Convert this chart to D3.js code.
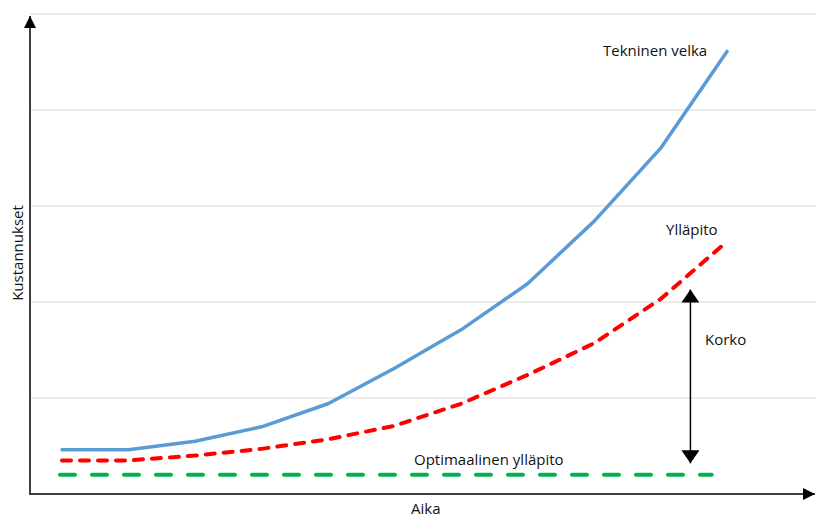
<!DOCTYPE html>
<html>
<head>
<meta charset="utf-8">
<script src="https://cdn.jsdelivr.net/npm/d3@7"></script>
<style>
  body { margin: 0; background: #fff; }
  text { font-family: "Open Sans", "Noto Sans", sans-serif; font-size: 15px; fill: #111; }
</style>
</head>
<body>
<svg id="chart" width="816" height="518"></svg>
<script>
// time steps (no labels on the axis)
const time = [0, 1, 2, 3, 4, 5, 6, 7, 8, 9, 10];
// costs
const teknVelka = [0.46, 0.46, 0.55, 0.70, 0.94, 1.31, 1.71, 2.19, 2.84, 3.60, 4.61];
const yllapito = [0.35, 0.35, 0.40, 0.47, 0.57, 0.71, 0.94, 1.24, 1.57, 2.03, 2.63];
const optimiTime = [0, 9.8];
const optimi = [0.20, 0.20];
const gridValues = [1, 2, 3, 4, 5];
// "Korko" arrow spans between these cost levels
const korkoTime = 9.45;
const korko = [0.32, 2.13];

const svg = d3.select("#chart");
const axisX = 30, axisY = 494;

const x = d3.scaleLinear().domain([0, 10]).range([62, 727]);
const y = d3.scaleLinear().domain([0, 5]).range([axisY, 14]);

const defs = svg.append("defs");
defs.append("marker")
    .attr("id", "axisHead")
    .attr("viewBox", "0 0 12 12")
    .attr("refX", 12).attr("refY", 6)
    .attr("markerWidth", 12).attr("markerHeight", 12)
    .attr("markerUnits", "userSpaceOnUse")
    .attr("orient", "auto")
    .append("path").attr("d", "M0,0 L12,6 L0,12 Z").attr("fill", "#000");
defs.append("marker")
    .attr("id", "korkoHead")
    .attr("viewBox", "0 0 13 18")
    .attr("refX", 13).attr("refY", 9)
    .attr("markerWidth", 13).attr("markerHeight", 18)
    .attr("markerUnits", "userSpaceOnUse")
    .attr("orient", "auto-start-reverse")
    .append("path").attr("d", "M0,0 L13,9 L0,18 Z").attr("fill", "#000");

// grid lines
svg.append("g")
    .selectAll("line")
    .data(gridValues)
    .join("line")
    .attr("x1", axisX).attr("x2", 816)
    .attr("y1", d => y(d)).attr("y2", d => y(d))
    .attr("stroke", "#d9d9d9")
    .attr("stroke-width", 1);

// axes with arrow heads
svg.append("line")
    .attr("x1", axisX).attr("y1", axisY)
    .attr("x2", axisX).attr("y2", 16)
    .attr("stroke", "#404040").attr("stroke-width", 2)
    .attr("marker-end", "url(#axisHead)");
svg.append("line")
    .attr("x1", axisX - 1).attr("y1", axisY)
    .attr("x2", 815).attr("y2", axisY)
    .attr("stroke", "#404040").attr("stroke-width", 2)
    .attr("marker-end", "url(#axisHead)");

const line = d3.line().x(d => x(d[0])).y(d => y(d[1]));

svg.append("path")
    .datum(d3.zip(time, teknVelka))
    .attr("d", line)
    .attr("fill", "none")
    .attr("stroke", "#5b9bd5")
    .attr("stroke-width", 3.5)
    .attr("stroke-linecap", "round")
    .attr("stroke-linejoin", "round");

svg.append("path")
    .datum(d3.zip(time, yllapito))
    .attr("d", line)
    .attr("fill", "none")
    .attr("stroke", "#ff0000")
    .attr("stroke-width", 4)
    .attr("stroke-dasharray", "9,9")
    .attr("stroke-linecap", "round");

svg.append("path")
    .datum(d3.zip(optimiTime, optimi))
    .attr("d", line)
    .attr("fill", "none")
    .attr("stroke", "#00b050")
    .attr("stroke-width", 4)
    .attr("stroke-dasharray", "15,17")
    .attr("stroke-linecap", "round")
    .attr("transform", "translate(-2,0)");

// Korko double arrow
svg.append("line")
    .attr("x1", x(korkoTime)).attr("y1", y(korko[0]))
    .attr("x2", x(korkoTime)).attr("y2", y(korko[1]))
    .attr("stroke", "#000").attr("stroke-width", 1.5)
    .attr("marker-start", "url(#korkoHead)")
    .attr("marker-end", "url(#korkoHead)");

// labels
svg.append("text").attr("x", 603).attr("y", 56).text("Tekninen velka");
svg.append("text").attr("x", 666).attr("y", 235).text("Ylläpito");
svg.append("text").attr("x", 705).attr("y", 345).text("Korko");
svg.append("text").attr("x", 414).attr("y", 465).text("Optimaalinen ylläpito");
svg.append("text").attr("x", 411).attr("y", 514).text("Aika");
svg.append("text")
    .attr("transform", "translate(23,253) rotate(-90)")
    .attr("text-anchor", "middle")
    .text("Kustannukset");
</script>
</body>
</html>
